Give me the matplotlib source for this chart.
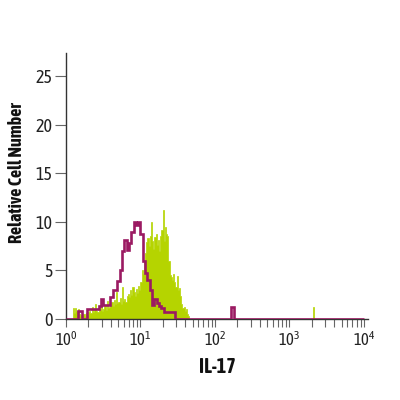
import numpy as np
import matplotlib
matplotlib.use("Agg")
import matplotlib.pyplot as plt
from matplotlib.ticker import LogLocator, NullFormatter

plt.rcParams['font.family'] = ['Asap Condensed', 'Liberation Sans Narrow', 'DejaVu Sans']
plt.rcParams['mathtext.fontset'] = 'custom'
plt.rcParams['mathtext.rm'] = 'Asap Condensed'
plt.rcParams['mathtext.it'] = 'Asap Condensed'

# channel layout (channels per decade)
purple_res = 32   # isotype control, 128 channels over 4 decades
green_res = 64    # IL-17 stained, 256 channels over 4 decades

# isotype control counts, channels 0..46
purple_counts = [0, 0, 0, 0, 0, 0.8, 0.8, 0, 0, 1.0,
                 1.0, 1.0, 1.0, 1.0, 1.3, 2.1, 1.4, 1.4, 1.4, 2.3,
                 3.0, 3.0, 3.9, 5.0, 7.0, 8.1, 7.1, 7.8, 9.0, 10.0,
                 9.7, 10.0, 8.8, 6.0, 4.7, 4.0, 3.0, 1.4, 2.1, 1.6,
                 1.3, 1.1, 0.75, 0.75, 0.75, 0.75, 0.75]
purple_spike_ch = [71]
purple_spike_val = [1.2]

# IL-17 counts starting at channel 6
green_start = 6
green_counts = [1.1, 0.6, 1.1, 0.8, 1.0, 0.5, 0.3,
                0.4, 0.2, 0.5, 0.3, 0.6, 0.4, 0.7,
                0.8, 0.6, 1.2, 0.7, 0.9, 1.5, 0.8, 0.7, 1.1, 0.9,
                1.8, 0.8, 1.0, 1.3, 0.9, 1.9, 1.1, 1.2,
                1.4, 1.7, 1.3, 2.0, 1.5, 2.8, 1.6, 1.8, 2.2, 1.5,
                3.3, 1.9, 2.1, 1.7, 2.4,
                2.6, 2.3, 3.0, 2.5, 3.3, 2.8, 2.4, 3.1, 2.7, 3.4, 3.0,
                3.8, 5.0, 4.6, 6.0,
                6.8, 7.9, 8.3, 7.5, 8.6, 10.0, 8.0, 7.2, 8.4, 8.8,
                7.6, 8.1, 7.0,
                8.5, 9.2, 11.2, 8.0, 9.5, 8.8,
                8.6, 6.0, 4.5,
                4.3, 4.0, 4.6, 3.8,
                3.3, 4.4, 3.0, 3.2, 2.4,
                1.5, 1.1, 1.2, 0.8, 1.0, 0.5,
                0.3]
green_spike_ch = [212]
green_spike_val = [1.2]

y_ticks = [0, 5, 10, 15, 20, 25]
x_decades = [0, 1, 2, 3, 4]

green_col = '#b5d400'
purple_col = '#9b1a62'

# assemble the full channel arrays
purple = np.zeros(4 * purple_res)
purple[:len(purple_counts)] = purple_counts
purple[purple_spike_ch] = purple_spike_val
purple_edges = 10 ** (np.arange(4 * purple_res + 1) / purple_res)

green = np.zeros(4 * green_res)
green[green_start:green_start + len(green_counts)] = green_counts
green[green_spike_ch] = green_spike_val
green_edges = 10 ** (np.arange(4 * green_res + 1) / green_res)

fig = plt.figure(figsize=(4, 4), dpi=100)
ax = fig.add_axes([0.165, 0.2025, 0.755, 0.665])

ax.stairs(green, green_edges, fill=True, facecolor=green_col,
          edgecolor=green_col, lw=0.5, zorder=2)
ax.stairs(purple, purple_edges, color=purple_col, lw=1.9, zorder=3)

ax.set_xscale('log')
ax.set_xlim(1, 10 ** 4.054)
ax.set_ylim(0, 27.4)

ax.set_xticks([10 ** d for d in x_decades])
ax.set_xticklabels([r'$\mathregular{10^{%d}}$' % d for d in x_decades])
ax.xaxis.set_minor_locator(LogLocator(base=10, subs=np.arange(2, 10)))
ax.xaxis.set_minor_formatter(NullFormatter())
ax.set_yticks(y_ticks)

for s in ['top', 'right']:
    ax.spines[s].set_visible(False)
for s in ['left', 'bottom']:
    ax.spines[s].set_color('#333333')
    ax.spines[s].set_linewidth(1.0)

ax.tick_params(axis='x', which='both', direction='out', length=6, width=0.8,
               color='#666666', labelsize=12, labelcolor='#222222', pad=3)
ax.tick_params(axis='y', direction='out', length=8, width=0.8,
               color='#666666', labelsize=13, labelcolor='#222222', pad=1.5)

ax.set_xlabel('IL-17', fontsize=14.5, fontweight='bold', labelpad=5, color='#111111')
ax.set_ylabel('Relative Cell Number', fontsize=13, fontweight='bold', color='#111111')
ax.yaxis.set_label_coords(-0.131, 0.549)

fig.savefig('out.png', dpi=100)
